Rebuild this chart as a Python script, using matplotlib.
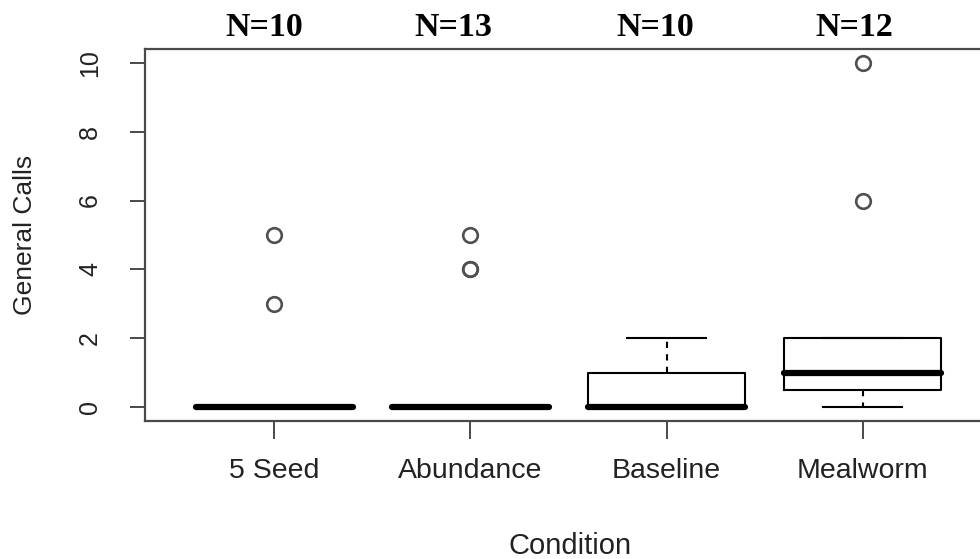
import matplotlib.pyplot as plt
import numpy as np

# general calls per bird, by feeding condition
conditions = ["5 Seed", "Abundance", "Baseline", "Mealworm"]
seed5 = [0, 0, 0, 0, 0, 0, 0, 0, 3, 5]
abundance = [0, 0, 0, 0, 0, 0, 0, 0, 0, 0, 4, 4, 5]
baseline = [0, 0, 0, 0, 0, 0, 1, 1, 1, 2]
mealworm = [0, 0, 0, 1, 1, 1, 1, 2, 2, 2, 6, 10]
groups = [seed5, abundance, baseline, mealworm]
yticks = [0, 2, 4, 6, 8, 10]


def fivenum(x):
    # Tukey hinges, same as R's boxplot.stats
    x = np.sort(np.asarray(x, float))
    n = len(x)
    n4 = np.floor((n + 3) / 2) / 2
    d = np.array([1, n4, (n + 1) / 2, n + 1 - n4, n]) - 1
    return 0.5 * (x[np.floor(d).astype(int)] + x[np.ceil(d).astype(int)])


def box_stats(x, label):
    x = np.asarray(x, float)
    _, q1, med, q3, _ = fivenum(x)
    iqr = q3 - q1
    lo, hi = q1 - 1.5 * iqr, q3 + 1.5 * iqr
    inside = x[(x >= lo) & (x <= hi)]
    return dict(label=label, med=med, q1=q1, q3=q3,
                whislo=inside.min(), whishi=inside.max(),
                fliers=x[(x < lo) | (x > hi)])


stats = [box_stats(g, c) for g, c in zip(groups, conditions)]
pos = np.arange(1, len(groups) + 1)

fig = plt.figure(figsize=(9.8, 5.59), dpi=100)
ax = fig.add_axes([145 / 980, 138 / 559, 847 / 980, 372 / 559])

ax.bxp(stats, positions=pos, widths=0.8, capwidths=0.4,
       boxprops=dict(color="black", lw=1.5),
       medianprops=dict(color="black", lw=4.5, solid_capstyle="round"),
       whiskerprops=dict(color="black", lw=1.5, linestyle=(0, (3, 3))),
       capprops=dict(color="black", lw=1.5),
       flierprops=dict(marker="o", markerfacecolor="none",
                       markeredgecolor="#505050", markersize=10.5,
                       markeredgewidth=1.9))

ax.set_xlim(0.34, 4.66)
ax.set_ylim(-0.4, 10.4)

axcol = "#4a4a4a"
for s in ax.spines.values():
    s.set_color(axcol)
    s.set_linewidth(1.6)

ax.set_xticks(pos)
ax.set_xticklabels(conditions, family="Liberation Sans", fontsize=20.5,
                   color="#222222")
ax.set_yticks(yticks)
ax.set_yticklabels([str(t) for t in yticks], family="Liberation Sans",
                   fontsize=18, rotation=90, va="center", color="#222222")
ax.tick_params(axis="x", length=13, width=1.4, color=axcol, pad=14)
ax.tick_params(axis="y", length=11, width=1.4, color=axcol, pad=20)

ax.set_ylabel("General Calls", family="Liberation Sans", fontsize=19,
              color="#222222", va="center")
ax.yaxis.set_label_coords(-0.142, 0.5)
ax.set_xlabel("Condition", family="Liberation Sans", fontsize=21,
              color="#222222", va="center")
ax.xaxis.set_label_coords(0.502, -0.335)

# sample sizes above each box
nudge = [-0.05, -0.09, -0.06, -0.04]
for p, g, dx in zip(pos, groups, nudge):
    ax.text(p + dx, 1.059, f"N={len(g)}", transform=ax.get_xaxis_transform(),
            ha="center", va="center", family="Liberation Serif",
            fontweight="bold", fontsize=24.5, color="black")

fig.savefig("out.png", dpi=100)
